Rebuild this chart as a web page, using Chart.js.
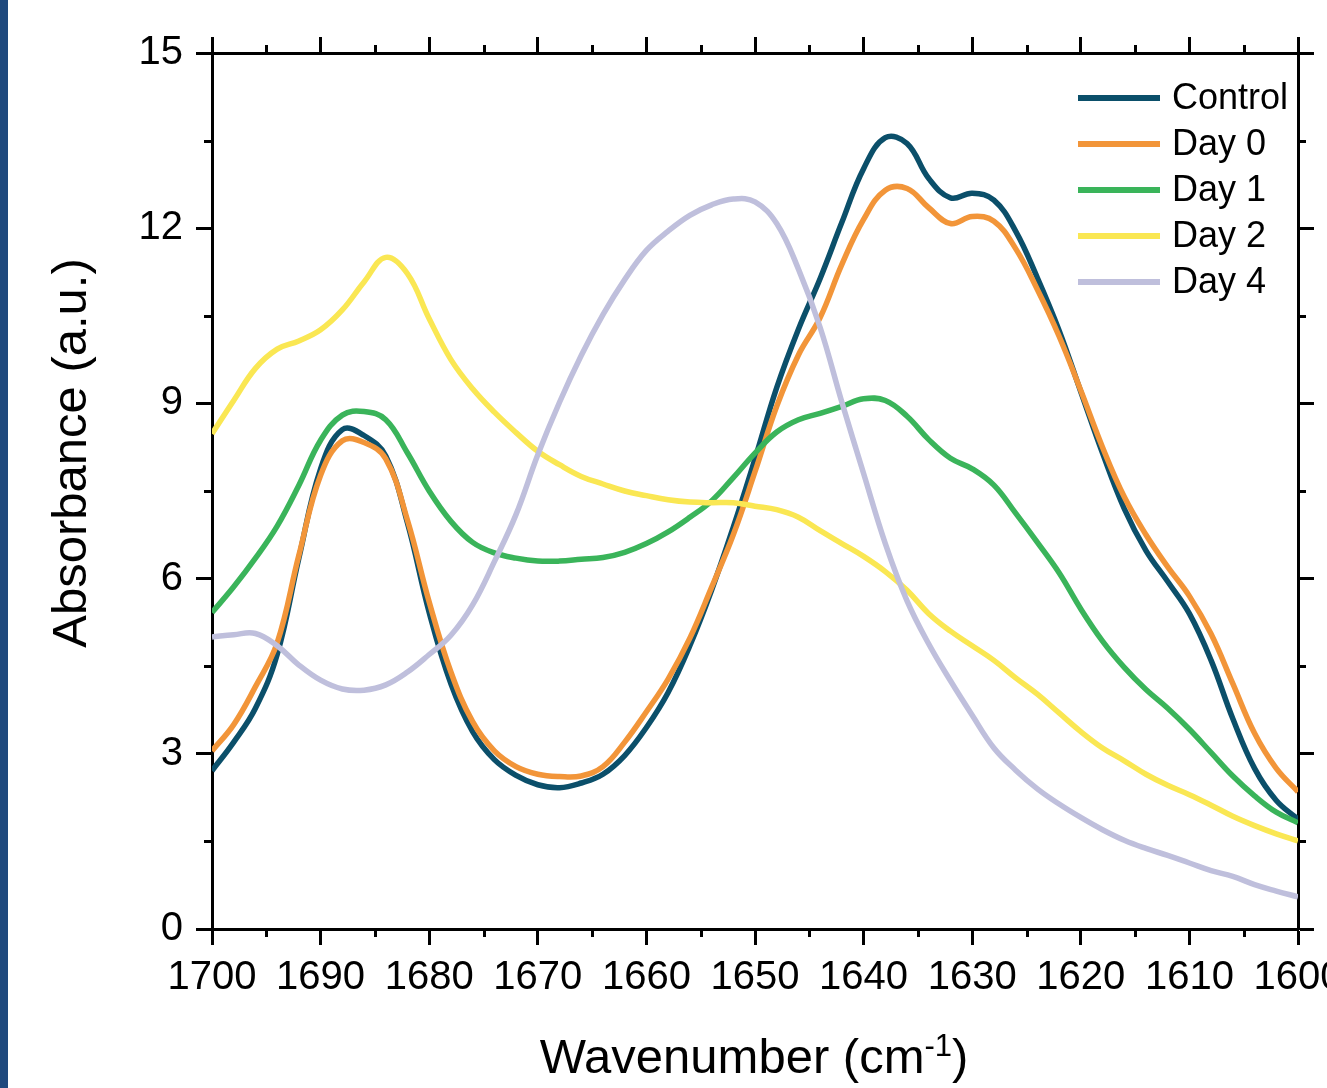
<!DOCTYPE html>
<html>
<head>
<meta charset="utf-8">
<script src="https://cdn.jsdelivr.net/npm/chart.js@4.4.0/dist/chart.umd.min.js"></script>
<style>
  html, body { margin: 0; padding: 0; background: #fff; overflow: hidden; }
  #wrap { position: relative; width: 1400px; height: 1088px; }
  #bar { position: absolute; left: 0; top: 0; width: 8px; height: 1088px; background: #1f497d; }
</style>
</head>
<body>
<div id="wrap">
  <canvas id="ftir" width="1400" height="1088"></canvas>
  <div id="bar"></div>
</div>
<script>
// wavenumber grid (cm-1), read every 2 cm-1
const wavenumbers = [1700, 1698, 1696, 1694, 1692, 1690, 1688, 1686, 1684, 1682,
  1680, 1678, 1676, 1674, 1672, 1670, 1668, 1666, 1664, 1662,
  1660, 1658, 1656, 1654, 1652, 1650, 1648, 1646, 1644, 1642,
  1640, 1638, 1636, 1634, 1632, 1630, 1628, 1626, 1624, 1622,
  1620, 1618, 1616, 1614, 1612, 1610, 1608, 1606, 1604, 1602, 1600];

const control = [2.71, 3.2, 3.78, 4.7, 6.35, 7.88, 8.55, 8.45, 8.1, 6.95,
  5.42, 4.2, 3.38, 2.9, 2.63, 2.47, 2.42, 2.5, 2.65, 2.97,
  3.45, 4.05, 4.85, 5.8, 6.88, 8.05, 9.27, 10.27, 11.14, 12.1,
  13.02, 13.55, 13.45, 12.85, 12.52, 12.6, 12.48, 11.95, 11.15, 10.25,
  9.2, 8.15, 7.2, 6.48, 5.95, 5.4, 4.6, 3.6, 2.75, 2.2, 1.88];

const day0 = [3.05, 3.5, 4.15, 4.9, 6.4, 7.77, 8.36, 8.33, 8.05, 7.0,
  5.6, 4.4, 3.55, 3.05, 2.78, 2.65, 2.61, 2.62, 2.78, 3.2,
  3.72, 4.28, 4.98, 5.85, 6.75, 7.83, 8.95, 9.83, 10.47, 11.38,
  12.15, 12.65, 12.68, 12.35, 12.08, 12.2, 12.12, 11.65, 10.95, 10.15,
  9.22, 8.25, 7.4, 6.75, 6.2, 5.7, 5.05, 4.2, 3.35, 2.75, 2.35];

const day1 = [5.42, 5.86, 6.35, 6.9, 7.6, 8.37, 8.8, 8.86, 8.72, 8.15,
  7.5, 6.98, 6.62, 6.44, 6.35, 6.3, 6.3, 6.33, 6.36, 6.45,
  6.6, 6.8, 7.05, 7.33, 7.73, 8.15, 8.51, 8.72, 8.83, 8.95,
  9.08, 9.05, 8.78, 8.38, 8.06, 7.88, 7.6, 7.12, 6.62, 6.1,
  5.48, 4.93, 4.48, 4.1, 3.78, 3.42, 3.02, 2.62, 2.28, 2.0, 1.82];

const day2 = [8.48, 9.05, 9.6, 9.93, 10.07, 10.26, 10.6, 11.08, 11.5, 11.22,
  10.45, 9.75, 9.25, 8.85, 8.5, 8.18, 7.95, 7.75, 7.62, 7.5,
  7.42, 7.35, 7.31, 7.3, 7.3, 7.24, 7.18, 7.05, 6.82, 6.6,
  6.38, 6.12, 5.8, 5.4, 5.1, 4.85, 4.6, 4.3, 4.02, 3.7,
  3.38, 3.1, 2.88, 2.65, 2.46, 2.3, 2.12, 1.93, 1.77, 1.63, 1.51];

const day4 = [5.0, 5.04, 5.06, 4.85, 4.52, 4.26, 4.11, 4.09, 4.18, 4.4,
  4.7, 5.03, 5.55, 6.29, 7.1, 8.12, 9.02, 9.82, 10.52, 11.12,
  11.62, 11.95, 12.22, 12.4, 12.5, 12.45, 12.08, 11.3, 10.3, 9.02,
  7.8, 6.6, 5.62, 4.88, 4.25, 3.66, 3.1, 2.72, 2.4, 2.14,
  1.91, 1.7, 1.52, 1.38, 1.26, 1.13, 1.0, 0.9, 0.76, 0.65, 0.55];

const seriesNames = ["Control", "Day 0", "Day 1", "Day 2", "Day 4"];
const seriesColors = ["#0b4f6a", "#f29539", "#3ab45a", "#fae753", "#bfbfdc"];
const seriesValues = [control, day0, day1, day2, day4];

const xMinor = [1695, 1685, 1675, 1665, 1655, 1645, 1635, 1625, 1615, 1605];
const yMinor = [1.5, 4.5, 7.5, 10.5, 13.5];

const FONT = "'Liberation Sans', Arial, sans-serif";
Chart.defaults.font.family = FONT;
Chart.defaults.color = "#000";

const minorTicks = {
  id: "minorTicks",
  afterDraw(chart) {
    const { ctx, chartArea: a, scales } = chart;
    ctx.save();
    ctx.strokeStyle = "#000";
    ctx.lineWidth = 3;
    ctx.beginPath();
    xMinor.forEach(v => {
      const px = Math.round(scales.x.getPixelForValue(v)) + 0.5;
      ctx.moveTo(px, a.bottom); ctx.lineTo(px, a.bottom + 8);
      ctx.moveTo(px, a.top); ctx.lineTo(px, a.top - 8);
    });
    yMinor.forEach(v => {
      const py = Math.round(scales.y.getPixelForValue(v)) + 0.5;
      ctx.moveTo(a.left, py); ctx.lineTo(a.left - 8, py);
      ctx.moveTo(a.right, py); ctx.lineTo(a.right + 8, py);
    });
    ctx.stroke();
    ctx.restore();
  }
};

const axisTitles = {
  id: "axisTitles",
  afterDraw(chart) {
    const { ctx } = chart;
    ctx.save();
    ctx.fillStyle = "#000";
    // y title
    ctx.font = `49px ${FONT}`;
    ctx.translate(86, 453);
    ctx.rotate(-Math.PI / 2);
    ctx.textAlign = "center";
    ctx.textBaseline = "alphabetic";
    ctx.fillText("Absorbance (a.u.)", 0, 0);
    ctx.setTransform(1, 0, 0, 1, 0, 0);
    // x title with superscript
    const main = "Wavenumber (cm", sup = "-1", close = ")";
    ctx.font = `49px ${FONT}`;
    const w1 = ctx.measureText(main).width, w3 = ctx.measureText(close).width;
    ctx.font = `31px ${FONT}`;
    const w2 = ctx.measureText(sup).width;
    let x = 754 - (w1 + w2 + w3) / 2;
    ctx.textAlign = "left";
    ctx.font = `49px ${FONT}`;
    ctx.fillText(main, x, 1073);
    x += w1;
    ctx.font = `31px ${FONT}`;
    ctx.fillText(sup, x, 1056);
    x += w2;
    ctx.font = `49px ${FONT}`;
    ctx.fillText(close, x, 1073);
    ctx.restore();
  }
};

const lineLegend = {
  id: "lineLegend",
  afterDraw(chart) {
    const { ctx } = chart;
    ctx.save();
    ctx.font = `36px ${FONT}`;
    ctx.textBaseline = "middle";
    ctx.textAlign = "left";
    chart.data.datasets.forEach((ds, i) => {
      const y = 98 + i * 46;
      ctx.strokeStyle = ds.borderColor;
      ctx.lineWidth = 6;
      ctx.beginPath();
      ctx.moveTo(1078, y);
      ctx.lineTo(1160, y);
      ctx.stroke();
      ctx.fillStyle = "#000";
      ctx.fillText(ds.label, 1172, y + 1);
    });
    ctx.restore();
  }
};

const axisBase = {
  type: "linear",
  border: { display: true, color: "#000", width: 3 },
  grid: { drawOnChartArea: false, drawTicks: true, tickLength: 16, tickWidth: 3, tickColor: "#000" }
};

new Chart(document.getElementById("ftir"), {
  type: "line",
  data: {
    datasets: seriesNames.map((name, i) => ({
      label: name,
      data: wavenumbers.map((w, j) => ({ x: w, y: seriesValues[i][j] })),
      borderColor: seriesColors[i],
      borderWidth: 5.5,
      pointRadius: 0,
      tension: 0.4,
      fill: false,
      order: seriesNames.length - i
    }))
  },
  options: {
    responsive: false,
    animation: false,
    layout: { padding: 0 },
    plugins: { legend: { display: false }, tooltip: { enabled: false } },
    scales: {
      x: {
        ...axisBase,
        position: "bottom",
        reverse: true,
        min: 1600,
        max: 1700,
        ticks: { stepSize: 10, padding: 9, font: { size: 40 }, color: "#000", maxRotation: 0, autoSkip: false, callback: v => String(v) },
        afterFit: s => { s.height = 1088 - 929; }
      },
      x2: {
        ...axisBase,
        position: "top",
        reverse: true,
        min: 1600,
        max: 1700,
        ticks: { stepSize: 10, display: false },
        afterFit: s => { s.height = 53; }
      },
      y: {
        ...axisBase,
        position: "left",
        min: 0,
        max: 15,
        ticks: { stepSize: 3, padding: 13, font: { size: 40 }, color: "#000" },
        afterFit: s => { s.width = 212; }
      },
      y2: {
        ...axisBase,
        position: "right",
        min: 0,
        max: 15,
        ticks: { stepSize: 3, display: false },
        afterFit: s => { s.width = 1400 - 1298; }
      }
    }
  },
  plugins: [minorTicks, axisTitles, lineLegend]
});
</script>
</body>
</html>
